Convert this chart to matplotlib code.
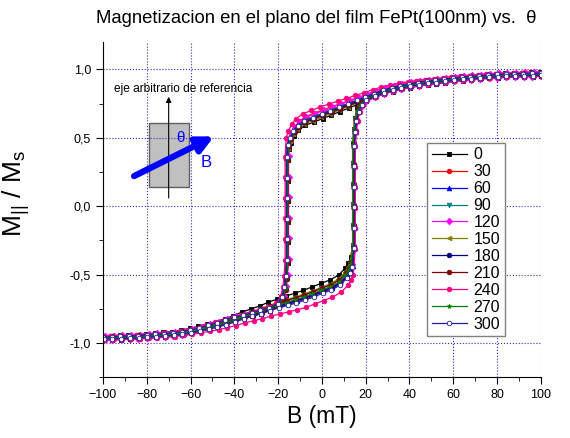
import numpy as np
import matplotlib
matplotlib.use("Agg")
import matplotlib.pyplot as plt
from matplotlib.ticker import MultipleLocator, FuncFormatter

plt.rcParams['font.family'] = ['Liberation Sans', 'DejaVu Sans']
plt.rcParams['mathtext.default'] = 'regular'

# rama descendente (campo de +100 a -100 mT)
b_dn = [100, 96, 92, 88, 84, 80, 76, 72, 68, 64, 60, 56, 52, 48, 44, 40, 36, 32, 28, 24,
        20, 16, 12, 8, 4, 0, -4, -8, -11, -13, -14.5, -15.5, -16, -16, -16, -16, -16, -16,
        -16.5, -17, -18, -20, -24, -28, -32, -36, -40, -44, -48, -52, -56, -60, -64, -68,
        -72, -76, -80, -84, -88, -92, -96, -100]
m_dn = [0.965, 0.963, 0.962, 0.96, 0.958, 0.955, 0.95, 0.945, 0.94, 0.935, 0.928, 0.92,
        0.912, 0.905, 0.895, 0.885, 0.872, 0.857, 0.84, 0.815, 0.79, 0.765, 0.74, 0.715,
        0.69, 0.665, 0.64, 0.615, 0.58, 0.54, 0.49, 0.44, 0.35, 0.2, 0.05, -0.1, -0.25, -0.4,
        -0.52, -0.6, -0.67, -0.72, -0.75, -0.77, -0.79, -0.805, -0.82, -0.84, -0.86, -0.88,
        -0.9, -0.915, -0.925, -0.935, -0.94, -0.945, -0.95, -0.955, -0.958, -0.96, -0.962,
        -0.965]
n_dn = 32  # puntos antes del salto

# rama ascendente (campo de -100 a +100 mT)
b_up = [-100, -96, -92, -88, -84, -80, -76, -72, -68, -64, -60, -56, -52, -48, -44, -40,
        -36, -32, -28, -24, -20, -16, -12, -8, -4, 0, 4, 8, 11, 12.5, 13.5, 14.5, 14.5, 14.5,
        14.5, 14.5, 14.5, 15, 15.5, 16.5, 18, 20, 24, 28, 32, 36, 40, 44, 48, 52, 56, 60, 64,
        68, 72, 76, 80, 84, 88, 92, 96, 100]
m_up = [-0.965, -0.962, -0.96, -0.958, -0.955, -0.95, -0.945, -0.94, -0.935, -0.925, -0.915,
        -0.9, -0.885, -0.87, -0.85, -0.83, -0.805, -0.785, -0.765, -0.74, -0.72, -0.7, -0.68,
        -0.66, -0.635, -0.61, -0.585, -0.55, -0.5, -0.46, -0.42, -0.3, -0.15, 0.0, 0.15, 0.3,
        0.45, 0.55, 0.63, 0.7, 0.75, 0.785, 0.81, 0.835, 0.855, 0.87, 0.885, 0.895, 0.905,
        0.912, 0.92, 0.928, 0.935, 0.94, 0.945, 0.95, 0.955, 0.958, 0.96, 0.962, 0.963, 0.965]
n_up = 31  # puntos antes del salto

angulos = ['0', '30', '60', '90', '120', '150', '180', '210', '240', '270', '300']
colores = ['#000000', '#FF0000', '#0000FF', '#008080', '#FF00FF', '#808000',
           '#000080', '#800000', '#FF0080', '#008000', '#2020A0']
marcadores = ['s', 'o', '^', 'v', 'D', '<', 'o', 'o', 'o', '*', 'o']
# corrimientos de cada curva
db_dn = [0.3, 0.6, -0.3, 0.2, 0.8, -0.2, 0.1, 0.5, -0.8, 0.4, -0.1]
db_up = [-0.4, 0.3, 0.5, -0.2, 0.2, -0.5, 0.4, 0.0, 0.8, -0.3, 0.3]
dm_dn = [-0.01, 0.03, 0.0, 0.01, 0.02, -0.01, 0.0, 0.01, 0.05, 0.01, 0.0]
dm_up = [0.03, -0.01, -0.01, 0.0, 0.01, 0.01, -0.01, 0.0, -0.07, 0.0, -0.02]
dm_sat = [-0.015, 0.01, 0.005, -0.01, 0.015, -0.005, 0.0, -0.01, 0.01, 0.005, 0.008]


def rama(b, m, n, db, dm, ds):
    b = np.array(b) + db
    m = np.array(m, dtype=float)
    peso = np.clip((0.97 - np.abs(m)) / 0.3, 0, 1)
    peso[n:] = 0
    return b, m + dm * peso + ds


fig = plt.figure(figsize=(5.7, 4.38), dpi=100)
ax = fig.add_axes([0.1807, 0.139, 0.768, 0.765])

for i in range(len(angulos)):
    x1, y1 = rama(b_dn, m_dn, n_dn, db_dn[i], dm_dn[i], dm_sat[i])
    x2, y2 = rama(b_up, m_up, n_up, db_up[i], dm_up[i], -dm_sat[i])
    face = 'white' if angulos[i] == '300' else colores[i]
    ax.plot(np.concatenate([x1, x2]), np.concatenate([y1, y2]), '-', color=colores[i],
            lw=0.9, marker=marcadores[i], ms=3.3, mfc=face, mec=colores[i], mew=0.6,
            label=angulos[i])

ax.set_xlim(-100, 100)
ax.set_ylim(-1.25, 1.2)
ax.xaxis.set_major_locator(MultipleLocator(20))
ax.xaxis.set_minor_locator(MultipleLocator(10))
ax.yaxis.set_major_locator(MultipleLocator(0.5))
ax.yaxis.set_minor_locator(MultipleLocator(0.25))
ax.yaxis.set_major_formatter(FuncFormatter(lambda v, p: f"{v:.1f}".replace('.', ',')))
ax.tick_params(which='major', direction='out', length=5, labelsize=9)
ax.tick_params(which='minor', direction='out', length=3)
ax.spines['top'].set_visible(False)
ax.spines['right'].set_visible(False)
ax.grid(True, which='major', color='#3030C0', ls=':', lw=0.8)

ax.set_xlabel('B (mT)', fontsize=16.5, labelpad=3)
ax.set_ylabel('M$_{||}$ / M$_s$', fontsize=19)
ax.yaxis.set_label_coords(-0.162, 0.549)
fig.text(0.555, 0.958, 'Magnetizacion en el plano del film FePt(100nm) vs.  θ',
         ha='center', va='center', fontsize=13.3)

leg = ax.legend(loc='upper left', bbox_to_anchor=(0.74, 0.70),
                fontsize=11.5, labelspacing=0.12, handlelength=2.2, handletextpad=0.4,
                borderpad=0.3, borderaxespad=0, fancybox=False, framealpha=1)
leg.get_frame().set_edgecolor('#808080')
leg.get_frame().set_linewidth(1)

# esquema del film
ax.add_patch(plt.Rectangle((-79, 0.14), 18.5, 0.47, facecolor='#C0C0C0',
                           edgecolor='#606060', lw=1))
ax.annotate('', xy=(-70, 0.80), xytext=(-70, 0.06),
            arrowprops=dict(arrowstyle='-|>', color='black', lw=0.8, mutation_scale=8,
                            shrinkA=0, shrinkB=0))
ax.text(-63.5, 0.86, 'eje arbitrario de referencia', ha='center', va='center', fontsize=8.6)
ax.annotate('', xy=(-49.3, 0.51), xytext=(-85.8, 0.22),
            arrowprops=dict(arrowstyle='-|>', color='#0000FF', lw=4.5, mutation_scale=24,
                            shrinkA=0, shrinkB=0))
ax.text(-64.8, 0.50, 'θ', color='#0000FF', ha='center', va='center', fontsize=11)
ax.text(-53, 0.32, 'B', color='#0000FF', ha='center', va='center', fontsize=12)

fig.savefig('out.png', dpi=100)
